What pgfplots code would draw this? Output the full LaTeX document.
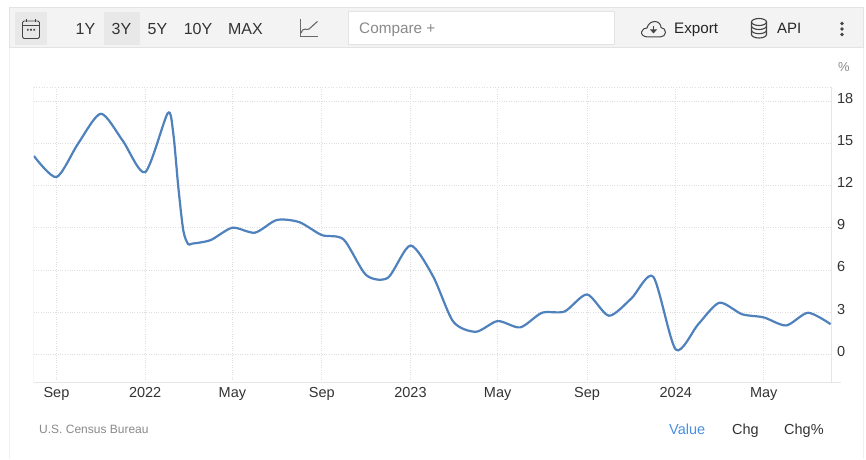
\documentclass[border=0pt]{standalone}
\usepackage{pgfplots}
\pgfplotsset{compat=1.18}
\usepackage{fontspec}
\setmainfont{Liberation Sans}
\definecolor{barbg}{HTML}{F3F3F3}
\definecolor{barline}{HTML}{E3E3E3}
\definecolor{btnbg}{HTML}{E8E8E8}
\definecolor{axisline}{HTML}{E6E6E6}
\definecolor{gridc}{HTML}{DEDEDE}
\definecolor{serie}{HTML}{4F81BD}
\definecolor{txt}{HTML}{333333}
\definecolor{icon}{HTML}{444444}
\definecolor{src}{HTML}{8A8A8A}
\definecolor{link}{HTML}{4A90E2}
\newcommand{\fs}[1]{\fontsize{#1}{#1}\selectfont}

% values, x = days since 1 Sep 2021
\pgfplotstableread{
x y
-31 14.1
0 12.6
30 15.0
61 17.1
91 15.2
122 12.95
153 17.13
160.7 15.7
167.6 11.9
174.5 8.8
181 7.85
186.5 7.87
212 8.12
242 9.0
273 8.65
303 9.55
334 9.4
365 8.48
395 8.17
426 5.64
456 5.45
487 7.74
518 5.56
546 2.32
577 1.61
607 2.37
638 1.92
668 2.96
699 3.05
730 4.26
760 2.75
791 3.98
821 5.52
852 0.35
883 2.15
912 3.67
943 2.86
973 2.63
1004 2.06
1034 2.96
1065 2.15
}\mydata

\begin{document}
\begin{tikzpicture}
\path[use as bounding box,fill=white] (0,0) rectangle (866pt,459pt);

% page furniture, in image pixels (y down)
\begin{scope}[x=1pt,y=-1pt,shift={(0pt,459pt)}]
\draw[barline!50] (9.5,48) -- (9.5,459);
\draw[barline!50] (863,48) -- (863,459);
\draw[barline,fill=barbg,line width=1pt] (9.5,7.5) rectangle (863,48);
\fill[btnbg] (15,12) rectangle (47,45);
\fill[btnbg] (104,12) rectangle (140,45);
\draw[barline,fill=white,line width=1pt] (348.5,11.5) rectangle (614.5,44.5);
% calendar
\draw[icon,line width=0.9pt,rounded corners=1.5pt] (22.5,21) rectangle (39.5,38.5);
\draw[icon,line width=0.9pt] (22.5,25.5) -- (39.5,25.5) (26.5,19) -- (26.5,22) (35.5,19) -- (35.5,22);
\fill[icon] (27,29) rectangle (28.6,30.6) (30.2,29) rectangle (31.8,30.6) (33.4,29) rectangle (35,30.6);
% chart icon
\draw[icon!80,line width=1.1pt] (300.5,19) -- (300.5,36.5) -- (318,36.5);
\draw[icon!80,line width=1.1pt] (301,33) .. controls (304,26) and (306,31) .. (309,29) .. controls (312,27) and (314,24) .. (317.5,21.5);
% cloud
\draw[icon,line width=1pt] (648,37) .. controls (643,37) and (641,34) .. (641.5,32) .. controls (642,29) and (645,28) .. (647,28) .. controls (648,24) and (651,21.5) .. (655,21.5) .. controls (659,21.5) and (661,25) .. (661,27.5) .. controls (664,28) and (665.5,30) .. (665.5,32.5) .. controls (665.5,35) and (663,37) .. (660,37) -- cycle;
\draw[icon,line width=1.2pt] (653.5,26) -- (653.5,31);
\fill[icon] (650,29.5) -- (657,29.5) -- (653.5,33.5) -- cycle;
% database
\draw[icon,line width=1.1pt] (759,22) ellipse[x radius=7.5,y radius=3.5];
\draw[icon,line width=1.1pt] (751.5,22) -- (751.5,34.5) arc[start angle=180,end angle=0,x radius=7.5,y radius=3.5] -- (766.5,22);
\draw[icon,line width=1.1pt] (751.5,26) arc[start angle=180,end angle=0,x radius=7.5,y radius=3.5];
\draw[icon,line width=1.1pt] (751.5,30.2) arc[start angle=180,end angle=0,x radius=7.5,y radius=3.5];
% menu dots
\fill[icon] (842,23.5) circle (1.8) (842,29) circle (1.8) (842,34.5) circle (1.8);
% toolbar text
\node[anchor=base,inner sep=0pt,text=txt,font=\fs{16}] at (85.5,35) {1Y};
\node[anchor=base,inner sep=0pt,text=txt,font=\fs{16}] at (121.5,35) {3Y};
\node[anchor=base,inner sep=0pt,text=txt,font=\fs{16}] at (157.5,35) {5Y};
\node[anchor=base,inner sep=0pt,text=txt,font=\fs{16}] at (198,35) {10Y};
\node[anchor=base,inner sep=0pt,text=txt,font=\fs{16}] at (245.5,35) {MAX};
\node[anchor=base west,inner sep=0pt,text=src,font=\fs{15.3}] at (359,34) {Compare +};
\node[anchor=base west,inner sep=0pt,text=black!85,font=\fs{15.2}] at (674,34) {Export};
\node[anchor=base west,inner sep=0pt,text=black!85,font=\fs{15}] at (777,34) {API};
\node[anchor=base west,inner sep=0pt,text=src,font=\fs{13}] at (838,71) {\%};
% footer text
\node[anchor=base west,inner sep=0pt,text=src,font=\fs{12}] at (39,433.3) {U.S. Census Bureau};
\node[anchor=base west,inner sep=0pt,text=link,font=\fs{14.5}] at (669,434.3) {Value};
\node[anchor=base west,inner sep=0pt,text=txt,font=\fs{14.5}] at (732,434.3) {Chg};
\node[anchor=base west,inner sep=0pt,text=txt,font=\fs{14.5}] at (784,434.3) {Chg\%};
\end{scope}

\begin{axis}[
  at={(33.5pt,77pt)}, anchor=south west,
  scale only axis, width=797.8pt, height=295pt,
  xmin=-31.6, xmax=1066, ymin=-1.96, ymax=19,
  axis x line*=bottom, axis y line*=right,
  axis line style={draw=axisline,line width=1pt},
  xtick={0,122,242,365,487,607,730,852,973},
  xticklabels={Sep,2022,May,Sep,2023,May,Sep,2024,May},
  ytick={0,3,...,18},
  major tick length=0pt,
  grid=major,
  major grid style={draw=gridc,dotted,line width=0.7pt},
  /pgf/number format/assume math mode=true,
  tick label style={font=\fs{14.5},text=txt},
  xticklabel style={yshift=-1.5pt},
  yticklabel style={anchor=west,inner sep=0pt,xshift=5.5pt,yshift=3pt},
  clip=true,
]
\addplot[serie,line width=2.2pt,smooth,tension=0.45,no markers] table[x=x,y=y] {\mydata};
\draw[axisline,line width=1pt] (rel axis cs:0,0) -- (rel axis cs:0,1);
\draw[gridc,dotted,line width=0.7pt] (rel axis cs:0,1) -- (rel axis cs:1,1);
\end{axis}

% base line stub right of the axis
\begin{scope}[x=1pt,y=-1pt,shift={(0pt,459pt)}]
\draw[axisline,line width=1pt] (831,382) -- (841,382);
\end{scope}
\end{tikzpicture}
\end{document}
